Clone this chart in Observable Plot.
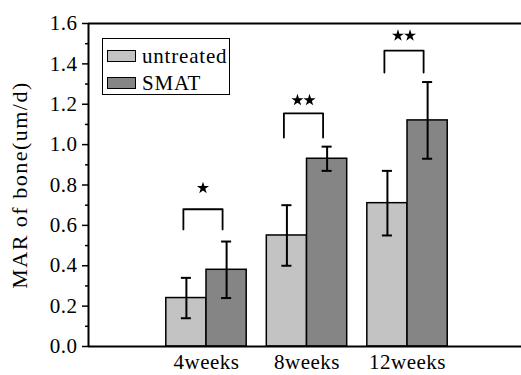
<!DOCTYPE html>
<html>
<head>
<meta charset="utf-8">
<script src="https://cdn.jsdelivr.net/npm/d3@7"></script>
<script src="https://cdn.jsdelivr.net/npm/@observablehq/plot@0.6"></script>
</head>
<body style="margin:0;padding:0;background:#fff">
<div id="wrap" style="position:relative;width:521px;height:375px;font-family:'Times New Roman',serif"></div>
<script>
const categories = ["4weeks", "8weeks", "12weeks"];
const series = ["untreated", "SMAT"];
const colors = ["#c3c3c3", "#858585"];
const untreated = [0.24, 0.55, 0.71];
const untreatedErr = [0.10, 0.15, 0.16];
const smat = [0.38, 0.93, 1.12];
const smatErr = [0.14, 0.06, 0.19];
const sigStars = [1, 2, 2];
const sigTop = [0.68, 1.155, 1.466];
const sigLeg = [0.58, 1.035, 1.357];
const sigStarY = [0.785, 1.22, 1.54];
const yTicks = [0, 0.2, 0.4, 0.6, 0.8, 1.0, 1.2, 1.4, 1.6];
const yMinorTicks = [0.1, 0.3, 0.5, 0.7, 0.9, 1.1, 1.3, 1.5];

const FONT = "Times New Roman";
const barW = 0.4;
const bars = [];
categories.forEach((c, i) => {
  const pos = i + 1;
  bars.push({cat: c, series: series[0], x1: pos - barW, x2: pos, xc: pos - barW / 2, v: untreated[i], e: untreatedErr[i]});
  bars.push({cat: c, series: series[1], x1: pos, x2: pos + barW, xc: pos + barW / 2, v: smat[i], e: smatErr[i]});
});
const brackets = [];
const stars = [];
const starGap = 0.06;
categories.forEach((c, i) => {
  const pos = i + 1;
  const l = pos - barW / 2 - 0.03, r = pos + barW / 2 - 0.04;
  brackets.push([{x: l, y: sigLeg[i]}, {x: l, y: sigTop[i]}, {x: r, y: sigTop[i]}, {x: r, y: sigLeg[i]}]);
  const cx = (l + r) / 2;
  for (let k = 0; k < sigStars[i]; k++) {
    stars.push({x: cx + (k - (sigStars[i] - 1) / 2) * 2 * starGap, y: sigStarY[i]});
  }
});
const capW = 0.05;

const chart = Plot.plot({
  width: 521,
  height: 375,
  marginLeft: 88,
  marginRight: 0,
  marginTop: 23,
  marginBottom: 29,
  style: {fontFamily: FONT, fontSize: "21px", color: "#000", background: "#fff"},
  x: {type: "linear", domain: [-0.174, 4.134], axis: null},
  y: {domain: [0, 1.6], axis: null},
  color: {domain: series, range: colors},
  marks: [
    Plot.rect(bars, {x1: "x1", x2: "x2", y1: 0, y2: "v", fill: "series", stroke: "#000", strokeWidth: 1.5}),
    Plot.ruleX(bars, {x: "xc", y1: d => d.v - d.e, y2: d => d.v + d.e, stroke: "#000", strokeWidth: 2}),
    Plot.ruleY(bars, {y: d => d.v + d.e, x1: d => d.xc - capW, x2: d => d.xc + capW, stroke: "#000", strokeWidth: 2}),
    Plot.ruleY(bars, {y: d => d.v - d.e, x1: d => d.xc - capW, x2: d => d.xc + capW, stroke: "#000", strokeWidth: 2}),
    ...brackets.map(b => Plot.line(b, {x: "x", y: "y", stroke: "#000", strokeWidth: 1.8})),
    Plot.dot(stars, {x: "x", y: "y", symbol: "star", r: 3.8, fill: "#000", stroke: "none"}),
    Plot.axisY(yTicks, {tickSize: 6, tickPadding: 5, tickFormat: d3.format(".1f"), fontSize: 21, fontFamily: FONT, strokeWidth: 1.5,
      label: "MAR of bone(um/d)", labelAnchor: "center", labelArrow: "none", labelOffset: 77}),
    Plot.axisY(yMinorTicks, {tickSize: 3, text: null, strokeWidth: 1.5, label: null}),
    Plot.axisX([1, 2, 3], {tickSize: 0, tickPadding: 8, tickFormat: d => categories[d - 1], fontSize: 21, fontFamily: FONT, label: null}),
    Plot.ruleY([0], {stroke: "#000", strokeWidth: 2}),
    Plot.ruleY([1.6], {stroke: "#000", strokeWidth: 2}),
    Plot.ruleX([-0.174], {y1: 0, y2: 1.6, stroke: "#000", strokeWidth: 2})
  ]
});
chart.querySelectorAll("text").forEach(t => {
  t.setAttribute("font-family", FONT);
  if (t.textContent === "MAR of bone(um/d)") { t.style.fontSize = "22px"; t.style.letterSpacing = "1.5px"; }
  else t.style.letterSpacing = "0.5px";
});
const wrap = document.getElementById("wrap");
wrap.appendChild(chart);
const legend = document.createElement("div");
Object.assign(legend.style, {position: "absolute", left: "102px", top: "38px", width: "126px", height: "55px",
  border: "1.5px solid #000", background: "#fff", fontSize: "21px", fontFamily: FONT, letterSpacing: "0.8px"});
series.forEach((s, i) => {
  const item = document.createElement("div");
  Object.assign(item.style, {position: "absolute", left: "4px", top: (i === 0 ? 5.5 : 32.5) + "px", display: "flex", alignItems: "center", lineHeight: "22px", height: "22px"});
  const sw = document.createElement("div");
  Object.assign(sw.style, {width: "27px", height: "10px", border: "1.5px solid #000", marginRight: "6px", background: colors[i]});
  const t = document.createElement("span");
  t.style.fontFamily = FONT;
  t.textContent = s;
  item.appendChild(sw);
  item.appendChild(t);
  legend.appendChild(item);
});
wrap.appendChild(legend);
</script>
</body>
</html>
